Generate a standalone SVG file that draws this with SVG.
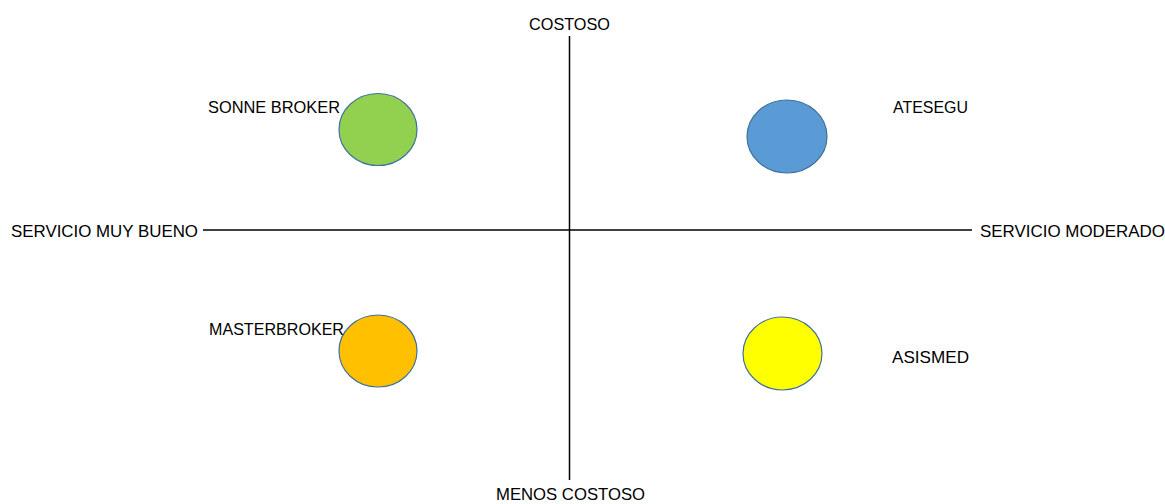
<svg xmlns="http://www.w3.org/2000/svg" width="1165" height="504" viewBox="0 0 1165 504">
  <style>
    .lbl { font-family: "Liberation Sans", Arial, sans-serif; font-size: 17px; fill: #000; }
    .axis { stroke: #000; stroke-width: 1.5; fill: none; }
    .dot { stroke: #41719C; stroke-width: 1.2; }
  </style>
  <rect width="1165" height="504" fill="#fff"/>

  <g id="connectors">
    <line class="axis" x1="569.5" y1="36" x2="569.5" y2="480"/>
    <line class="axis" x1="203" y1="230" x2="972" y2="230"/>
  </g>

  <g id="axis-labels">
    <text class="lbl" x="529" y="30" textLength="81" lengthAdjust="spacingAndGlyphs">COSTOSO</text>
    <text class="lbl" x="496" y="500" textLength="149" lengthAdjust="spacingAndGlyphs">MENOS COSTOSO</text>
    <text class="lbl" x="11" y="237" textLength="187" lengthAdjust="spacingAndGlyphs">SERVICIO MUY BUENO</text>
    <text class="lbl" x="980" y="237" textLength="185" lengthAdjust="spacingAndGlyphs">SERVICIO MODERADO</text>
  </g>

  <g id="sonne-broker">
    <ellipse class="dot" cx="378" cy="129.5" rx="39" ry="36" fill="#92D050"/>
    <text class="lbl" x="208" y="113" textLength="132" lengthAdjust="spacingAndGlyphs">SONNE BROKER</text>
  </g>

  <g id="atesegu">
    <ellipse class="dot" cx="787" cy="136.5" rx="40" ry="36.5" fill="#5B9BD5"/>
    <text class="lbl" x="893" y="113" textLength="75" lengthAdjust="spacingAndGlyphs">ATESEGU</text>
  </g>

  <g id="masterbroker">
    <ellipse class="dot" cx="378" cy="351" rx="39" ry="36" fill="#FFC000"/>
    <text class="lbl" x="209" y="335" textLength="135" lengthAdjust="spacingAndGlyphs">MASTERBROKER</text>
  </g>

  <g id="asismed">
    <ellipse class="dot" cx="782.5" cy="353.5" rx="39.5" ry="36.5" fill="#FFFF00"/>
    <text class="lbl" x="892" y="363" textLength="77" lengthAdjust="spacingAndGlyphs">ASISMED</text>
  </g>
</svg>
